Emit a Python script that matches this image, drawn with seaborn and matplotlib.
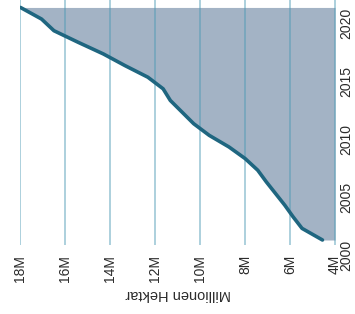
import matplotlib
matplotlib.use('Agg')
import matplotlib.pyplot as plt
import seaborn as sns
import pandas as pd

# values (million hectares per year)
years = [2000, 2001, 2002, 2003, 2004, 2005, 2006, 2007, 2008, 2009, 2010,
         2011, 2012, 2013, 2014, 2015, 2016, 2017, 2018, 2019, 2020]
hectares = [4.56, 5.47, 5.87, 6.24, 6.65, 7.06, 7.44, 8.00, 8.72, 9.60, 10.29,
            10.81, 11.33, 11.65, 12.33, 13.35, 14.31, 15.43, 16.51, 17.06, 18.0]
x_ticks = [18, 16, 14, 12, 10, 8, 6, 4]
x_labels = [f'{v}M' for v in x_ticks]
y_ticks = [2000, 2005, 2010, 2015, 2020]

df = pd.DataFrame({'year': years, 'value': hectares})

sns.set_style('white')
plt.rcParams['font.family'] = ['Liberation Sans', 'DejaVu Sans']

fig = plt.figure(figsize=(3.55, 3.14), dpi=100)
ax = fig.add_axes([20 / 355, 1 - 245 / 314, 315.5 / 355, 245 / 314])

ax.fill_betweenx(df['year'], df['value'], 4, color='#a3b3c5', lw=0, zorder=1)
sns.lineplot(data=df, x='value', y='year', orient='y', ax=ax,
             color='#1f6680', lw=2.6, zorder=3)

ax.set_xlim(18.02, 3.98)
ax.set_ylim(1999.57, 2020.64)

ax.set_xticks(x_ticks)
ax.set_xticklabels(x_labels)
ax.set_yticks(y_ticks)
ax.yaxis.tick_right()
ax.grid(axis='x', color='#4d9ab5', alpha=0.5, lw=1.3)
ax.grid(axis='y', visible=False)
ax.set_axisbelow(False)
for s in ax.spines.values():
    s.set_visible(False)

ax.tick_params(axis='x', length=0, pad=7, labelrotation=90,
               labelsize=10, labelcolor='#2b2b2b')
ax.tick_params(axis='y', length=0, pad=3, labelsize=10, labelcolor='#2b2b2b')
for lab in ax.get_yticklabels():
    lab.set_rotation(90)
    lab.set_va('top')

ax.set_xlabel('Millionen Hektar', rotation=180, fontsize=10.5,
              color='#2b2b2b', labelpad=4)
ax.set_ylabel('')

fig.savefig('out.png', dpi=100)
